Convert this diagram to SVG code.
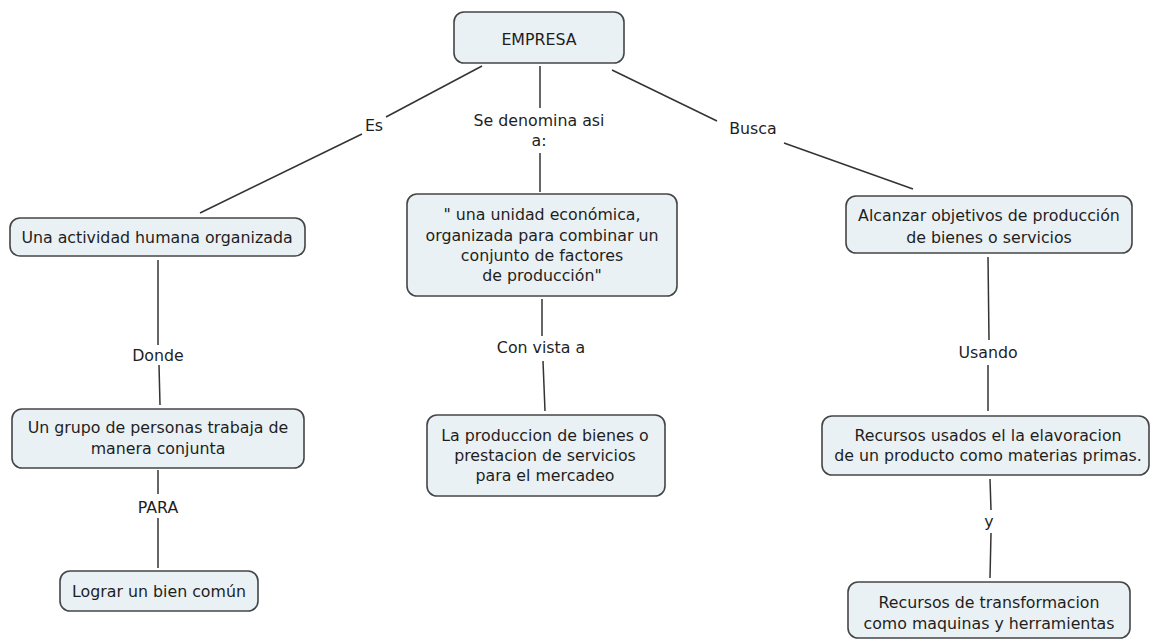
<svg xmlns="http://www.w3.org/2000/svg" width="1151" height="640" viewBox="0 0 1151 640">
<style>
.box{fill:#eaf1f4;stroke:#454545;stroke-width:1.6}
.t{font-family:"DejaVu Sans",sans-serif;font-size:15.8px;fill:#1e1e1e;text-anchor:middle;dominant-baseline:central}
.c line{stroke:#333;stroke-width:1.5}
</style>
<rect width="1151" height="640" fill="#fff"/>
<g class="c" id="connectors">
<line x1="482" y1="66" x2="386" y2="117"/>
<line x1="362" y1="134" x2="200" y2="213"/>
<line x1="540" y1="66" x2="540" y2="108"/>
<line x1="540" y1="153" x2="540" y2="192"/>
<line x1="612" y1="70" x2="717" y2="121"/>
<line x1="784" y1="143" x2="913" y2="189"/>
<line x1="158" y1="260" x2="158" y2="345"/>
<line x1="159" y1="365" x2="160" y2="405"/>
<line x1="158" y1="470" x2="158" y2="494"/>
<line x1="158" y1="518" x2="158" y2="568"/>
<line x1="542" y1="299" x2="542" y2="336"/>
<line x1="543" y1="361" x2="545" y2="411"/>
<line x1="988" y1="257" x2="989" y2="340"/>
<line x1="988" y1="365" x2="988" y2="411"/>
<line x1="990" y1="479" x2="991" y2="510"/>
<line x1="991" y1="533" x2="990" y2="578"/>
<text class="t" x="374" y="125">Es</text>
<text class="t" x="539" y="120">Se denomina asi</text>
<text class="t" x="539" y="140">a:</text>
<text class="t" x="753" y="128">Busca</text>
<text class="t" x="158" y="355">Donde</text>
<text class="t" x="158" y="507">PARA</text>
<text class="t" x="541" y="347">Con vista a</text>
<text class="t" x="988" y="352">Usando</text>
<text class="t" x="989" y="521">y</text>
</g>
<g id="empresa"><rect class="box" x="454" y="12" width="170" height="51" rx="10"/><text class="t" x="539" y="39">EMPRESA</text></g>
<g id="actividad"><rect class="box" x="10" y="218" width="295" height="38" rx="10"/><text class="t" x="157" y="237">Una actividad humana organizada</text></g>
<g id="grupo"><rect class="box" x="12" y="409" width="292" height="59" rx="10"/><text class="t" x="158" y="427">Un grupo de personas trabaja de</text><text class="t" x="158" y="448">manera conjunta</text></g>
<g id="lograr"><rect class="box" x="60" y="571" width="198" height="40" rx="10"/><text class="t" x="159" y="591">Lograr un bien común</text></g>
<g id="unidad"><rect class="box" x="407" y="194" width="270" height="102" rx="10"/><text class="t" x="542" y="214">" una unidad económica,</text><text class="t" x="542" y="235">organizada para combinar un</text><text class="t" x="542" y="255">conjunto de factores</text><text class="t" x="542" y="275">de producción"</text></g>
<g id="produccion"><rect class="box" x="427" y="415" width="238" height="81" rx="10"/><text class="t" x="545" y="435">La produccion de bienes o</text><text class="t" x="545" y="455">prestacion de servicios</text><text class="t" x="545" y="475">para el mercadeo</text></g>
<g id="alcanzar"><rect class="box" x="846" y="196" width="286" height="57" rx="10"/><text class="t" x="989" y="215">Alcanzar objetivos de producción</text><text class="t" x="989" y="237">de bienes o servicios</text></g>
<g id="recursos"><rect class="box" x="822" y="416" width="327" height="59" rx="10"/><text class="t" x="988" y="435">Recursos usados el la elavoracion</text><text class="t" x="988" y="455">de un producto como materias primas.</text></g>
<g id="transformacion"><rect class="box" x="848" y="582" width="282" height="56" rx="10"/><text class="t" x="989" y="602">Recursos de transformacion</text><text class="t" x="989" y="623">como maquinas y herramientas</text></g>
</svg>
